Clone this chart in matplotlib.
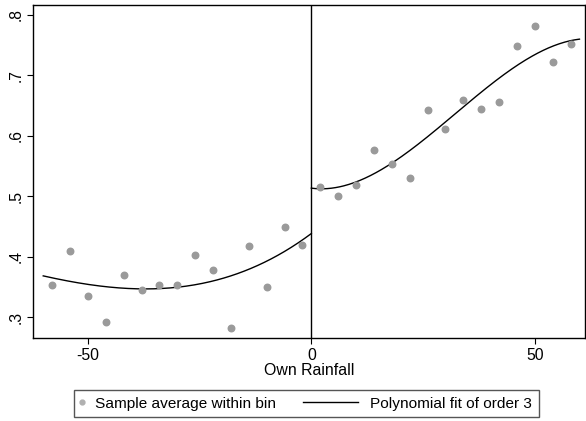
import numpy as np
import matplotlib
matplotlib.use("Agg")
import matplotlib.pyplot as plt
from matplotlib.lines import Line2D
from matplotlib.legend_handler import HandlerLine2D

plt.rcParams["font.family"] = ["Liberation Sans", "DejaVu Sans"]

# bin averages (bins of width 4)
left_x = [-58, -54, -50, -46, -42, -38, -34, -30, -26, -22, -18, -14, -10, -6, -2]
left_y = [0.353, 0.410, 0.336, 0.293, 0.370, 0.345, 0.354, 0.353, 0.403, 0.378,
          0.282, 0.418, 0.351, 0.450, 0.420]
right_x = [2, 6, 10, 14, 18, 22, 26, 30, 34, 38, 42, 46, 50, 54, 58]
right_y = [0.515, 0.501, 0.518, 0.577, 0.553, 0.530, 0.642, 0.611, 0.659, 0.645,
           0.655, 0.748, 0.782, 0.721, 0.752]

y_ticks = [0.3, 0.4, 0.5, 0.6, 0.7, 0.8]
y_labels = [".3", ".4", ".5", ".6", ".7", ".8"]
x_ticks = [-50, 0, 50]


class SmallHandle(HandlerLine2D):
    # narrow handle box for the marker entry
    def legend_artist(self, legend, orig_handle, fontsize, handlebox):
        handlebox.width = 0.15 * fontsize
        return super().legend_artist(legend, orig_handle, fontsize, handlebox)


fig = plt.figure(figsize=(5.86, 4.21), dpi=100)
ax = fig.add_axes([0.057, 0.197, 0.941, 0.792])

dot_color = "#9a9a9a"
ax.scatter(left_x, left_y, s=22, color=dot_color, zorder=3)
ax.scatter(right_x, right_y, s=22, color=dot_color, zorder=3)

# cubic fit on each side of the cutoff
xl = np.linspace(-60, 0, 200)
xr = np.linspace(0, 60, 200)
pl = np.polyfit(left_x, left_y, 3)
pr = np.polyfit(right_x, right_y, 3)
ax.plot(xl, np.polyval(pl, xl), color="black", lw=1.0)
ax.plot(xr, np.polyval(pr, xr), color="black", lw=1.0)

ax.axvline(0, color="black", lw=1.0)

ax.set_xlim(-62.2, 61.2)
ax.set_ylim(0.266, 0.8165)
ax.set_xticks(x_ticks)
ax.set_xticklabels([str(t) for t in x_ticks], fontsize=11.3)
ax.set_yticks(y_ticks)
ax.set_yticklabels(y_labels, fontsize=11.3, rotation=90, va="center")
ax.tick_params(length=4.3, width=0.8, color="black", pad=3)
ax.set_xlabel("Own Rainfall", fontsize=11.4, labelpad=0)
for s in ax.spines.values():
    s.set_linewidth(1.0)

dot_h = Line2D([], [], ls="none", marker="o", ms=3.5, color="#b0b0b0")
line_h = Line2D([], [], color="black", lw=1.0)
fig.legend([dot_h, line_h],
           ["Sample average within bin", "Polynomial fit of order 3"],
           handler_map={dot_h: SmallHandle()},
           loc="center", bbox_to_anchor=(0.523, 0.0415), ncol=2, fontsize=11.1,
           fancybox=False, edgecolor="#555555", framealpha=1,
           handlelength=3.6, handletextpad=0.8, columnspacing=1.7,
           borderpad=0.45, borderaxespad=0)

fig.savefig("out.png", dpi=100)
